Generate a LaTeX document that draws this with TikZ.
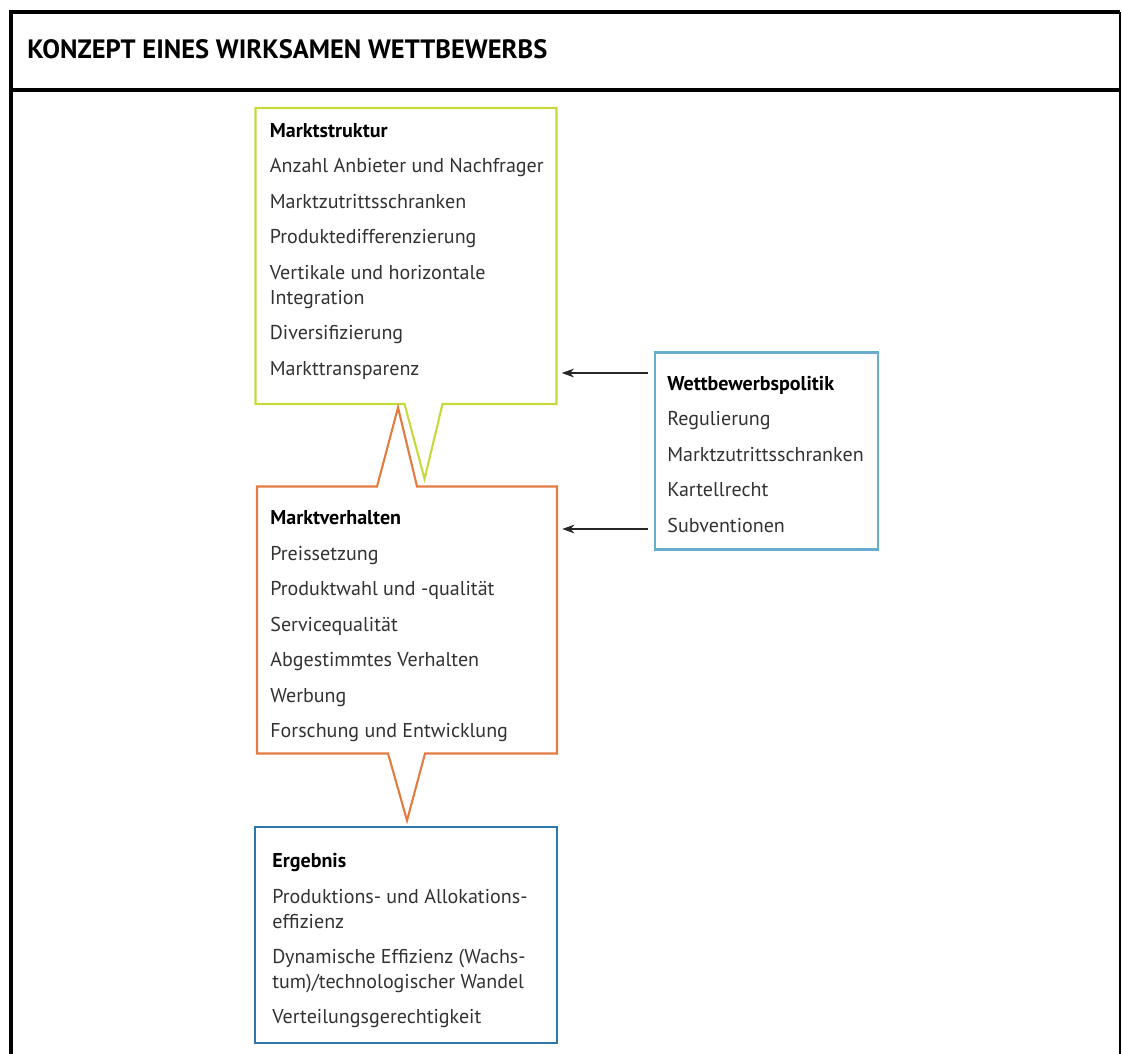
\documentclass[tikz,border=0pt]{standalone}
\usepackage{fontspec}
\setmainfont{PT Sans}
\usepackage{tikz}
\usetikzlibrary{positioning, arrows.meta, calc}

\definecolor{strukturgreen}{RGB}{198,218,62}
\definecolor{verhaltenorange}{RGB}{228,124,66}
\definecolor{politikblue}{RGB}{104,172,206}
\definecolor{ergebnisblue}{RGB}{44,120,170}
\definecolor{bodygrey}{RGB}{50,50,50}

\newcommand{\boxfont}{\fontsize{11.4}{14.2}\selectfont}
\newcommand{\boxhead}[1]{\textcolor{black}{\textbf{#1}}}

\begin{document}
\begin{tikzpicture}[
        x=0.02cm, y=-0.02cm,
        >=Stealth,
        frame_line/.style={line width=1.8pt, black},
        area_box/.style={draw=none, inner sep=0pt, outer sep=0pt},
        box_text/.style={anchor=north west, inner sep=0pt, align=left,
            font=\boxfont, text=bodygrey},
        callout_line/.style={line width=1.2pt, line join=miter, fill=white},
        arrow_style/.style={line width=0.7pt, black!85,
            arrows={-Stealth[length=7pt, width=5pt]}}
    ]

    % =========================================================================
    % 1. OUTER FRAME AND TITLE
    % =========================================================================
    \useasboundingbox (0,0) rectangle (1122,1054);
    \draw[frame_line] (11,1054) -- (11,12) -- (1120,12);
    \draw[frame_line, line width=1.3pt] (1120,12) -- (1120,1054);
    \draw[frame_line] (11,90) -- (1120,90);
    \node[anchor=base west, inner sep=0pt,
          font=\fontsize{15.1}{18}\selectfont\bfseries] (title) at (27,59)
        {KONZEPT EINES WIRKSAMEN WETTBEWERBS};

    % =========================================================================
    % 2. BOX AREAS (exact extent of each box)
    % =========================================================================
    \node[area_box, minimum width=6.02cm, minimum height=5.92cm] (struktur) at (406,256) {};
    \node[area_box, minimum width=6.00cm, minimum height=5.34cm] (verhalten) at (407,620) {};
    \node[area_box, minimum width=6.04cm, minimum height=4.32cm] (ergebnis) at (406,935) {};
    \node[area_box, minimum width=4.46cm, minimum height=3.94cm] (politik) at (766.5,451) {};

    % =========================================================================
    % 3. CALLOUT OUTLINES
    % =========================================================================
    % Marktstruktur: notch on the bottom edge pointing down
    \draw[callout_line, draw=strukturgreen]
        (struktur.north west) -- (struktur.north east) -- (struktur.south east)
        -- ($(struktur.south west)+(187,0)$)
        -- ($(struktur.south west)+(169,75)$)
        -- ($(struktur.south west)+(149,0)$)
        -- (struktur.south west) -- cycle;

    % Marktverhalten: notch up on top, notch down on bottom
    \draw[callout_line, draw=verhaltenorange]
        (verhalten.north west)
        -- ($(verhalten.north west)+(120,0)$)
        -- ($(verhalten.north west)+(141,-79)$)
        -- ($(verhalten.north west)+(160,0)$)
        -- (verhalten.north east) -- (verhalten.south east)
        -- ($(verhalten.south west)+(168,0)$)
        -- ($(verhalten.south west)+(150,67)$)
        -- ($(verhalten.south west)+(131,0)$)
        -- (verhalten.south west) -- cycle;

    % plain boxes
    \draw[line width=1.2pt, draw=politikblue] (politik.north west) rectangle (politik.south east);
    \draw[line width=1.2pt, draw=ergebnisblue] (ergebnis.north west) rectangle (ergebnis.south east);

    % =========================================================================
    % 4. BOX TEXTS
    % =========================================================================
    \node[box_text] (struktur_txt) at ($(struktur.north west)+(14,15)$) {%
        \boxhead{Marktstruktur}\\[6pt]
        Anzahl Anbieter und Nachfrager\\[6pt]
        Marktzutrittsschranken\\[6pt]
        Produktedifferenzierung\\[6pt]
        Vertikale und horizontale\\
        Integration\\[6pt]
        Diversifizierung\\[6pt]
        Markttransparenz};

    \node[box_text] (verhalten_txt) at ($(verhalten.north west)+(13,24)$) {%
        \boxhead{Marktverhalten}\\[6pt]
        Preissetzung\\[6pt]
        Produktwahl und -qualität\\[6pt]
        Servicequalität\\[6pt]
        Abgestimmtes Verhalten\\[6pt]
        Werbung\\[6pt]
        Forschung und Entwicklung};

    \node[box_text] (politik_txt) at ($(politik.north west)+(12,23)$) {%
        \boxhead{Wettbewerbspolitik}\\[6pt]
        Regulierung\\[6pt]
        Marktzutrittsschranken\\[6pt]
        Kartellrecht\\[6pt]
        Subventionen};

    \node[box_text] (ergebnis_txt) at ($(ergebnis.north west)+(17,26)$) {%
        \boxhead{Ergebnis}\\[6pt]
        Produktions- und Allokations-\\
        effizienz\\[6pt]
        Dynamische Effizienz (Wachs-\\
        tum)/technologischer Wandel\\[6pt]
        Verteilungsgerechtigkeit};

    % =========================================================================
    % 5. POLICY ARROWS
    % =========================================================================
    \draw[arrow_style, shorten <=4pt, shorten >=3pt] (politik.west |- 0,373) -- (struktur.east |- 0,373);
    \draw[arrow_style, shorten <=4pt, shorten >=3pt] (politik.west |- 0,529) -- (verhalten.east |- 0,529);

\end{tikzpicture}
\end{document}
